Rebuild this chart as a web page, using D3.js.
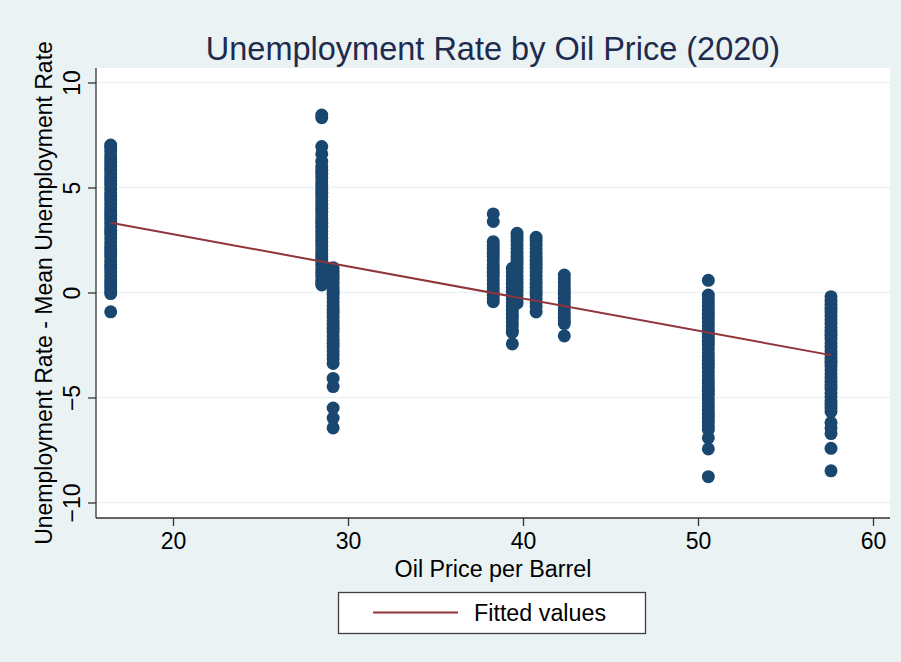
<!DOCTYPE html>
<html>
<head>
<meta charset="utf-8">
<script src="https://cdn.jsdelivr.net/npm/d3@7"></script>
<style>
  html, body { margin: 0; padding: 0; background: #eaf2f3; }
  svg { display: block; }
  text { font-family: "Liberation Sans", Arial, sans-serif; }
</style>
</head>
<body>
<svg id="chart" width="901" height="662"></svg>
<script>
// Oil price (USD per barrel) for each group of observations
const oilPrices = [16.44, 28.5, 29.15, 38.3, 39.39, 39.66, 40.75, 42.36, 50.59, 57.6];

// Unemployment rate minus mean unemployment rate, one array per oil price
const dev1644 = [7.02, 6.9, 6.74, 6.55, 6.38, 6.2, 6.01, 5.83, 5.66, 5.47, 5.3, 5.12, 4.93, 4.75, 4.58, 4.4, 4.21, 4.03, 3.86, 3.68, 3.5, 3.31, 3.13, 2.96, 2.78, 2.6, 2.41, 2.23, 2.06, 1.88, 1.7, 1.51, 1.33, 1.16, 0.98, 0.8, 0.61, 0.43, 0.26, 0.09, -0.05, -0.92];
const dev2850 = [8.45, 8.32, 6.95, 6.6, 6.25, 6.0, 5.82, 5.64, 5.45, 5.27, 5.1, 4.91, 4.73, 4.56, 4.38, 4.2, 4.01, 3.83, 3.66, 3.48, 3.3, 3.11, 2.93, 2.76, 2.58, 2.4, 2.21, 2.03, 1.86, 1.68, 1.5, 1.31, 1.13, 0.96, 0.78, 0.6, 0.45, 0.36];
const dev2915 = [1.18, 1.0, 0.82, 0.64, 0.45, 0.27, 0.1, -0.08, -0.26, -0.45, -0.63, -0.8, -0.98, -1.17, -1.35, -1.52, -1.7, -1.88, -2.07, -2.25, -2.42, -2.6, -2.78, -2.97, -3.15, -3.38, -4.09, -4.48, -5.5, -5.98, -6.45];
const dev3830 = [3.74, 3.38, 2.42, 2.25, 2.07, 1.88, 1.7, 1.52, 1.33, 1.15, 0.97, 0.78, 0.6, 0.42, 0.23, 0.05, -0.13, -0.3, -0.44];
const dev3939 = [1.15, 0.98, 0.8, 0.61, 0.43, 0.25, 0.06, -0.12, -0.3, -0.49, -0.67, -0.85, -1.04, -1.22, -1.4, -1.58, -1.78, -1.9, -2.45];
const dev3966 = [2.82, 2.64, 2.45, 2.27, 2.09, 1.9, 1.72, 1.54, 1.35, 1.17, 0.99, 0.8, 0.62, 0.44, 0.25, 0.07, -0.11, -0.3, -0.51];
const dev4075 = [2.63, 2.45, 2.26, 2.08, 1.9, 1.71, 1.53, 1.35, 1.16, 0.98, 0.8, 0.61, 0.43, 0.25, 0.06, -0.12, -0.3, -0.49, -0.67, -0.93];
const dev4236 = [0.83, 0.65, 0.47, 0.28, 0.1, -0.08, -0.27, -0.45, -0.63, -0.82, -1.0, -1.18, -1.35, -1.48, -2.07];
const dev5059 = [0.58, -0.12, -0.3, -0.48, -0.67, -0.85, -1.03, -1.22, -1.4, -1.58, -1.77, -1.95, -2.13, -2.32, -2.5, -2.68, -2.87, -3.05, -3.23, -3.42, -3.6, -3.78, -3.97, -4.15, -4.33, -4.52, -4.7, -4.88, -5.07, -5.25, -5.43, -5.62, -5.8, -5.98, -6.17, -6.35, -6.52, -6.92, -7.45, -8.77];
const dev5760 = [-0.2, -0.38, -0.57, -0.75, -0.93, -1.12, -1.3, -1.48, -1.67, -1.85, -2.03, -2.22, -2.4, -2.58, -2.77, -2.95, -3.13, -3.32, -3.5, -3.68, -3.87, -4.05, -4.23, -4.42, -4.6, -4.78, -4.97, -5.15, -5.33, -5.5, -5.67, -6.2, -6.45, -6.72, -7.42, -8.49];
const deviationGroups = [dev1644, dev2850, dev2915, dev3830, dev3939, dev3966, dev4075, dev4236, dev5059, dev5760];

// Linear fit: deviation = intercept + slope * price
const fitIntercept = 5.837;
const fitSlope = -0.1531;

// Axis ticks and labels
const xTicks = [20, 30, 40, 50, 60];
const yTicks = [-10, -5, 0, 5, 10];
const titleText = "Unemployment Rate by Oil Price (2020)";
const xTitle = "Oil Price per Barrel";
const yTitle = "Unemployment Rate - Mean Unemployment Rate";
const legendLabel = "Fitted values";

const points = [];
oilPrices.forEach((p, i) => deviationGroups[i].forEach(v => points.push({ price: p, dev: v })));

const svg = d3.select("#chart");
const W = 901, H = 662;
const plot = { left: 96, right: 890, top: 68, bottom: 518 };

const x = d3.scaleLinear().domain([15.6, 60.971]).range([plot.left, plot.right]);
const y = d3.scaleLinear().domain([-10.738, 10.69]).range([plot.bottom, plot.top]);

const navy = "#1a476f";
const maroon = "#90353b";
const fontFamily = "Liberation Sans, Arial, sans-serif";

svg.append("rect").attr("width", W).attr("height", H).attr("fill", "#eaf2f3");
svg.append("rect")
  .attr("x", plot.left).attr("y", plot.top)
  .attr("width", plot.right - plot.left).attr("height", plot.bottom - plot.top)
  .attr("fill", "#ffffff");

// Horizontal grid
svg.append("g").selectAll("line").data(yTicks).join("line")
  .attr("x1", plot.left).attr("x2", plot.right)
  .attr("y1", d => y(d)).attr("y2", d => y(d))
  .attr("stroke", "#eaf2f3").attr("stroke-width", 1.5);

// Scatter points
svg.append("g").selectAll("circle").data(points).join("circle")
  .attr("cx", d => x(d.price)).attr("cy", d => y(d.dev))
  .attr("r", 6.5).attr("fill", navy);

// Fitted line
const xMin = d3.min(oilPrices), xMax = d3.max(oilPrices);
svg.append("line")
  .attr("x1", x(xMin)).attr("y1", y(fitIntercept + fitSlope * xMin))
  .attr("x2", x(xMax)).attr("y2", y(fitIntercept + fitSlope * xMax))
  .attr("stroke", maroon).attr("stroke-width", 2);

// X axis
const xAxis = svg.append("g").attr("transform", `translate(0,${plot.bottom})`)
  .call(d3.axisBottom(x).tickValues(xTicks).tickSize(8).tickPadding(7).tickFormat(d3.format("d")));
xAxis.select(".domain").attr("stroke", "#333").attr("stroke-width", 1.3)
  .attr("d", `M${plot.left},0H${plot.right}`);
xAxis.selectAll(".tick line").attr("stroke", "#333").attr("stroke-width", 1.3);
xAxis.selectAll(".tick text").attr("font-size", 23).attr("fill", "#000")
  .attr("font-family", fontFamily);

// Y axis with rotated labels
const yAxis = svg.append("g").attr("transform", `translate(${plot.left},0)`)
  .call(d3.axisLeft(y).tickValues(yTicks).tickSize(8).tickFormat(d3.format("d")));
yAxis.select(".domain").attr("stroke", "#333").attr("stroke-width", 1.3)
  .attr("d", `M0,${plot.top}V${plot.bottom}`);
yAxis.selectAll(".tick line").attr("stroke", "#333").attr("stroke-width", 1.3);
yAxis.selectAll(".tick text")
  .attr("font-size", 23).attr("fill", "#000")
  .attr("font-family", fontFamily)
  .attr("x", 0).attr("dy", null).attr("y", 0)
  .attr("text-anchor", "middle")
  .attr("transform", "translate(-16,0) rotate(-90)");

// Titles
svg.append("text").attr("x", (plot.left + plot.right) / 2).attr("y", 60)
  .attr("text-anchor", "middle").attr("font-size", 32.5).attr("fill", "#1e2b4d")
  .text(titleText);
svg.append("text").attr("x", (plot.left + plot.right) / 2).attr("y", 577)
  .attr("text-anchor", "middle").attr("font-size", 23.3).attr("fill", "#000")
  .text(xTitle);
svg.append("text")
  .attr("transform", `translate(52,${(plot.top + plot.bottom) / 2}) rotate(-90)`)
  .attr("text-anchor", "middle").attr("font-size", 23).attr("fill", "#000")
  .text(yTitle);

// Legend
const legend = svg.append("g");
legend.append("rect").attr("x", 338.5).attr("y", 592.5).attr("width", 307).attr("height", 41)
  .attr("fill", "#ffffff").attr("stroke", "#404040").attr("stroke-width", 1.3);
legend.append("line").attr("x1", 373).attr("x2", 458).attr("y1", 612.5).attr("y2", 612.5)
  .attr("stroke", maroon).attr("stroke-width", 2);
legend.append("text").attr("x", 474).attr("y", 621)
  .attr("font-size", 23.3).attr("fill", "#000").text(legendLabel);
</script>
</body>
</html>
